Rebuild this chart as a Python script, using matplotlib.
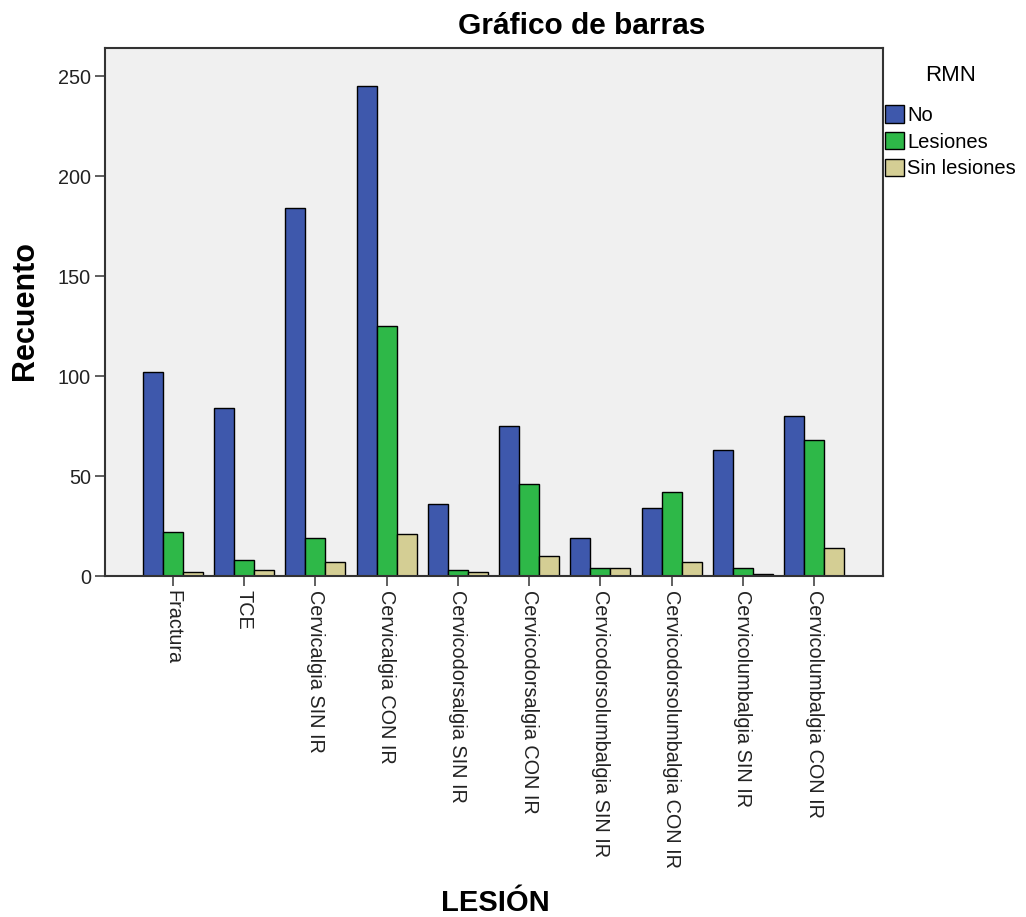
import matplotlib
matplotlib.use("Agg")
import matplotlib.pyplot as plt
import numpy as np

plt.rcParams['font.family'] = ['Liberation Sans', 'DejaVu Sans']

categories = ["Fractura", "TCE", "Cervicalgia SIN IR", "Cervicalgia CON IR",
              "Cervicodorsalgia SIN IR", "Cervicodorsalgia CON IR",
              "Cervicodorsolumbalgia SIN IR", "Cervicodorsolumbalgia CON IR",
              "Cervicolumbalgia SIN IR", "Cervicolumbalgia CON IR"]
series_names = ["No", "Lesiones", "Sin lesiones"]
no_vals = [102, 84, 184, 245, 36, 75, 19, 34, 63, 80]
lesiones_vals = [22, 8, 19, 125, 3, 46, 4, 42, 4, 68]
sin_lesiones_vals = [2, 3, 7, 21, 2, 10, 4, 7, 1, 14]
colors = ["#3E58AC", "#2EB848", "#D4CE94"]

fig = plt.figure(figsize=(10.26, 9.17), dpi=100)
ax = fig.add_axes([105/1026, 1-576/917, (882.7-105)/1026, (576-48)/917])
ax.set_facecolor("#F0F0F0")

x = np.arange(len(categories))
w = 0.28
for i, (vals, name, c) in enumerate(zip([no_vals, lesiones_vals, sin_lesiones_vals], series_names, colors)):
    ax.bar(x + (i-1)*w, vals, width=w, color=c, edgecolor="black", linewidth=1.0, label=name)

ax.set_xlim(-0.95, 9.96)
ax.set_ylim(0, 264)
ax.set_yticks([0, 50, 100, 150, 200, 250])
ax.set_xticks(x)
ax.set_xticklabels(categories, rotation=270, ha="center", va="top", fontsize=14.3)
ax.tick_params(axis='both', direction='out', length=7, width=1.2, color="#444444",
               labelsize=14.3, labelcolor="#222222", pad=3)
for s in ax.spines.values():
    s.set_linewidth(1.5)
    s.set_color("#333333")

fig.text(25/1026, 1-310/917, "Recuento", fontsize=22, fontweight="bold", rotation=90,
         ha="center", va="center")
fig.text(495/1026, 1-903/917, "LESIÓN", fontsize=21, fontweight="bold", ha="center", va="center")
fig.text(582/1026, 1-26/917, "Gráfico de barras", fontsize=21.5, fontweight="bold", ha="center", va="center")

leg = ax.legend(loc="upper left", bbox_to_anchor=(885/1026, 1-65/917), bbox_transform=fig.transFigure,
                frameon=False, title="RMN", fontsize=14.5, title_fontsize=16,
                handlelength=0.95, handleheight=0.95, handletextpad=0.15, labelspacing=0.35,
                borderaxespad=0, borderpad=0, alignment="center")
leg._legend_box.sep = 14

fig.savefig("out.png", dpi=100, facecolor="white")
